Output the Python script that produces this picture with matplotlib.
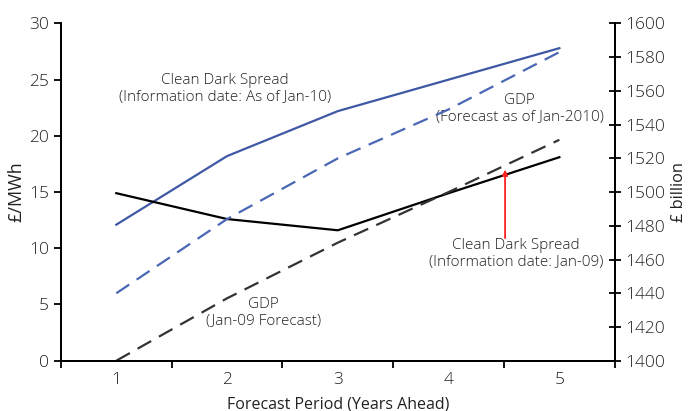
import numpy as np
import matplotlib.pyplot as plt

plt.rcParams['font.family'] = ['Open Sans', 'DejaVu Sans']
plt.rcParams['font.weight'] = 'light'

# dados
periodo = [1, 2, 3, 4, 5]
cds_jan10 = [12.1, 18.2, 22.2, 25.0, 27.8]
cds_jan09 = [14.9, 12.6, 11.6, 14.9, 18.1]
gdp_jan10 = [1440, 1484, 1520, 1549, 1583]
gdp_jan09 = [1400, 1437, 1470, 1500, 1531]

azul = '#3F58A6'
texto = '#222222'

fig = plt.figure(figsize=(6.97, 4.11), dpi=100)
ax = fig.add_axes([0.0874, 0.1224, 0.7946, 0.8206])
ax2 = ax.twinx()

# eixo esquerdo
ax.plot(periodo, cds_jan10, color=azul, linewidth=1.6)
ax.plot(periodo, cds_jan09, color='black', linewidth=1.6)
# eixo direito
ax2.plot(periodo, gdp_jan10, color='#4A67B5', linewidth=1.6, linestyle=(0, (7, 4)))
ax2.plot(periodo, gdp_jan09, color='#333333', linewidth=1.6, linestyle=(0, (7, 4)))

ax.set_xlim(0.5, 5.5)
ax.set_ylim(0, 30)
ax2.set_ylim(1400, 1600)
ax.set_yticks(np.arange(0, 31, 5))
ax2.set_yticks(np.arange(1400, 1601, 20))
ax.set_xticks(periodo)
ax.set_xticks(np.arange(0.5, 5.6, 1.0), minor=True)
ax.tick_params(axis='x', which='major', length=0, pad=8, labelsize=12.5, labelcolor=texto)
ax.tick_params(axis='x', which='minor', length=5, width=1.3, direction='out')
ax.tick_params(axis='y', length=5, width=1.3, direction='out', labelsize=12.5, labelcolor=texto)
ax2.tick_params(axis='y', length=8, width=1.3, direction='inout', labelsize=12.5, labelcolor=texto)

for a in (ax, ax2):
    a.spines['top'].set_visible(False)
    for s in ('left', 'bottom', 'right'):
        a.spines[s].set_linewidth(1.4)

ax.set_xlabel('Forecast Period (Years Ahead)', fontsize=11.5, color=texto, labelpad=6)
ax.set_ylabel('£/MWh', fontsize=13, color=texto, labelpad=3)
ax2.set_ylabel('£ billion', fontsize=11.8, color=texto, labelpad=4)

# textos
kw = dict(ha='center', va='center', fontsize=11, color=texto, linespacing=1.2)
ax.text(1.98, 24.2, 'Clean Dark Spread\n(Information date: As of Jan-10)', **kw)
ax.text(4.64, 22.4, 'GDP\n(Forecast as of Jan-2010)', **kw)
ax.text(4.61, 9.5, 'Clean Dark Spread\n(Information date: Jan-09)', **kw)
ax.text(2.33, 4.25, 'GDP\n(Jan-09 Forecast)', **kw)

ax.annotate('', xy=(4.51, 17.0), xytext=(4.51, 10.9),
            arrowprops=dict(arrowstyle='-|>', color='#FF2020', lw=1.3,
                            mutation_scale=8, shrinkA=0, shrinkB=0))

fig.savefig('out.png', dpi=100)
